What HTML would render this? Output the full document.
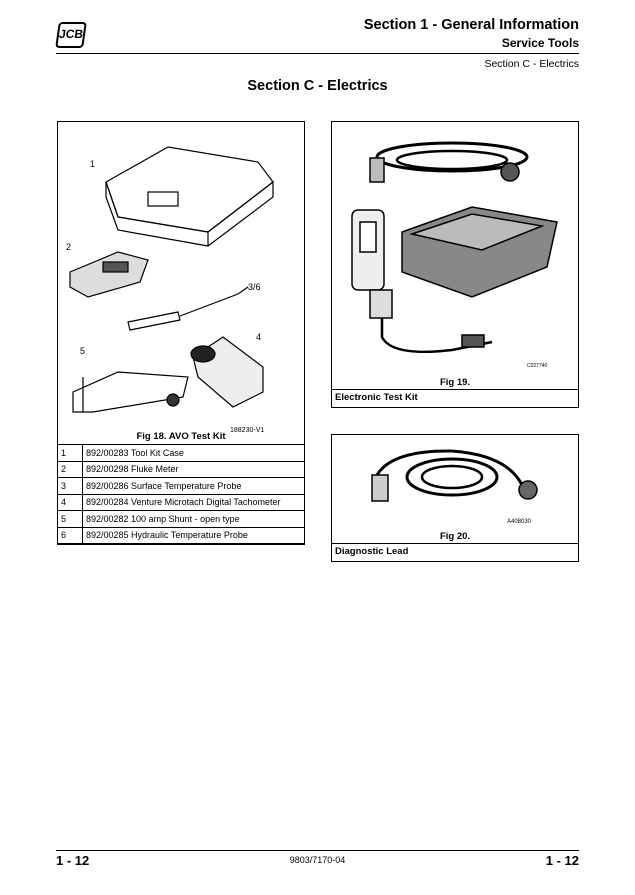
<!DOCTYPE html>
<html><head><meta charset="utf-8"><style>
body{margin:0;background:#fff;font-family:"Liberation Sans",Arial,sans-serif;color:#000}
.p{position:relative;width:635px;height:895px;overflow:hidden}
.a{position:absolute}
.box{position:absolute;border:1px solid #000;box-sizing:border-box}
table{border-collapse:collapse;font-size:9px}
td{border:1px solid #000;height:15.5px;padding:0 3px}
</style></head><body><div class="p">
<div class="a" style="left:57px;top:22px;width:24px;height:22px;border:2px solid #000;border-radius:4px;transform:skewX(-8deg);font:bold 12px 'Liberation Sans';text-align:center;line-height:20px">JCB</div>
<div class="a" style="right:56px;top:17px;font-weight:bold;font-size:14.5px">Section 1 - General Information</div>
<div class="a" style="right:56px;top:36px;font-weight:bold;font-size:12px">Service Tools</div>
<div class="a" style="left:56px;top:53px;width:523px;height:1px;background:#000"></div>
<div class="a" style="right:56px;top:58px;font-size:10.5px">Section C - Electrics</div>
<div class="a" style="left:0;width:635px;top:78px;text-align:center;font-weight:bold;font-size:14.5px">Section C - Electrics</div>

<div class="box" style="left:57px;top:121px;width:248px;height:424px">
<svg class="a" style="left:0;top:0" width="246" height="320" fill="none" stroke="#000" stroke-width="1.2">
<path d="M48 60 L110 25 L200 40 L215 60 L150 110 L60 95 Z" fill="#fff"/>
<path d="M48 60 L60 95 L150 110 L150 124 L60 108 L48 75 Z"/><path d="M150 110 L215 60 L215 75 L150 124"/>
<rect x="90" y="70" width="30" height="14"/>
<text x="32" y="45" font-size="9" fill="#000" stroke="none">1</text>
<text x="8" y="128" font-size="9" fill="#000" stroke="none">2</text>
<path d="M12 150 L60 130 L90 138 L82 160 L30 175 L12 165 Z" fill="#ddd"/>
<rect x="45" y="140" width="25" height="10" fill="#555"/>
<text x="190" y="168" font-size="9" fill="#000" stroke="none">3/6</text>
<path d="M70 200 L120 190 L122 198 L72 208 Z"/><path d="M122 194 L180 172 L190 165"/>
<text x="198" y="218" font-size="9" fill="#000" stroke="none">4</text>
<path d="M135 235 L165 215 L205 245 L205 270 L175 285 L140 255 Z" fill="#eee"/>
<ellipse cx="145" cy="232" rx="12" ry="8" fill="#222"/>
<text x="22" y="232" font-size="9" fill="#000" stroke="none">5</text>
<path d="M15 270 L60 250 L130 255 L125 275 L35 290 L15 290 Z"/><path d="M25 255 L25 290"/><circle cx="115" cy="278" r="6" fill="#333"/>
<text x="172" y="310" font-size="7" fill="#000" stroke="none">188230-V1</text>
</svg>
<div class="a" style="left:0;width:246px;top:309px;text-align:center;font-weight:bold;font-size:9.5px">Fig 18. AVO Test Kit</div>
<table class="a" style="left:-1px;top:322px;width:248px">
<tr><td style="width:18px">1</td><td>892/00283 Tool Kit Case</td></tr>
<tr><td>2</td><td>892/00298 Fluke Meter</td></tr>
<tr><td>3</td><td>892/00286 Surface Temperature Probe</td></tr>
<tr><td>4</td><td>892/00284 Venture Microtach Digital Tachometer</td></tr>
<tr><td>5</td><td>892/00282 100 amp Shunt - open type</td></tr>
<tr><td>6</td><td>892/00285 Hydraulic Temperature Probe</td></tr>
</table>
</div>

<div class="box" style="left:331px;top:121px;width:248px;height:287px">
<svg class="a" style="left:0;top:0" width="246" height="260" fill="none" stroke="#000" stroke-width="1.5">
<ellipse cx="120" cy="35" rx="75" ry="14" stroke-width="3"/><ellipse cx="120" cy="38" rx="55" ry="9" stroke-width="2.5"/>
<rect x="38" y="36" width="14" height="24" fill="#bbb"/><circle cx="178" cy="50" r="9" fill="#555"/>
<rect x="20" y="88" width="32" height="80" rx="6" fill="#eee"/><rect x="28" y="100" width="16" height="30" fill="#fff"/>
<path d="M70 110 L140 85 L225 100 L215 145 L140 175 L70 150 Z" fill="#888"/>
<path d="M80 112 L140 92 L210 104 L150 128 Z" fill="#bbb"/>
<rect x="38" y="168" width="22" height="28" fill="#ddd"/>
<path d="M50 196 L50 215 Q60 235 120 228 L160 220" stroke-width="2.5"/><rect x="130" y="213" width="22" height="12" fill="#555"/>
<text x="195" y="245" font-size="5" fill="#000" stroke="none">C027740</text>
</svg>
<div class="a" style="left:0;width:246px;top:255px;text-align:center;font-weight:bold;font-size:9.5px">Fig 19.</div>
<div class="a" style="left:-1px;top:267px;width:248px;height:1px;background:#000"></div>
<div class="a" style="left:3px;top:270px;font-weight:bold;font-size:9.5px">Electronic Test Kit</div>
</div>

<div class="box" style="left:331px;top:434px;width:248px;height:128px">
<svg class="a" style="left:0;top:0" width="246" height="110" fill="none" stroke="#000" stroke-width="3">
<path d="M45 40 Q60 15 120 16 Q175 20 190 50"/><ellipse cx="120" cy="42" rx="45" ry="18"/><ellipse cx="120" cy="42" rx="30" ry="11" stroke-width="2.5"/>
<rect x="40" y="40" width="16" height="26" fill="#ccc" stroke-width="1.5"/><circle cx="196" cy="55" r="9" fill="#666" stroke-width="1.5"/>
<text x="175" y="88" font-size="6" fill="#000" stroke="none">A408030</text>
</svg>
<div class="a" style="left:0;width:246px;top:96px;text-align:center;font-weight:bold;font-size:9.5px">Fig 20.</div>
<div class="a" style="left:-1px;top:108px;width:248px;height:1px;background:#000"></div>
<div class="a" style="left:3px;top:111px;font-weight:bold;font-size:9.5px">Diagnostic Lead</div>
</div>

<div class="a" style="left:56px;top:850px;width:523px;height:1px;background:#000"></div>
<div class="a" style="left:56px;top:853px;font-weight:bold;font-size:13px">1 - 12</div>
<div class="a" style="left:0;width:635px;top:855px;text-align:center;font-size:9px">9803/7170-04</div>
<div class="a" style="right:56px;top:853px;font-weight:bold;font-size:13px">1 - 12</div>
</div></body></html>
